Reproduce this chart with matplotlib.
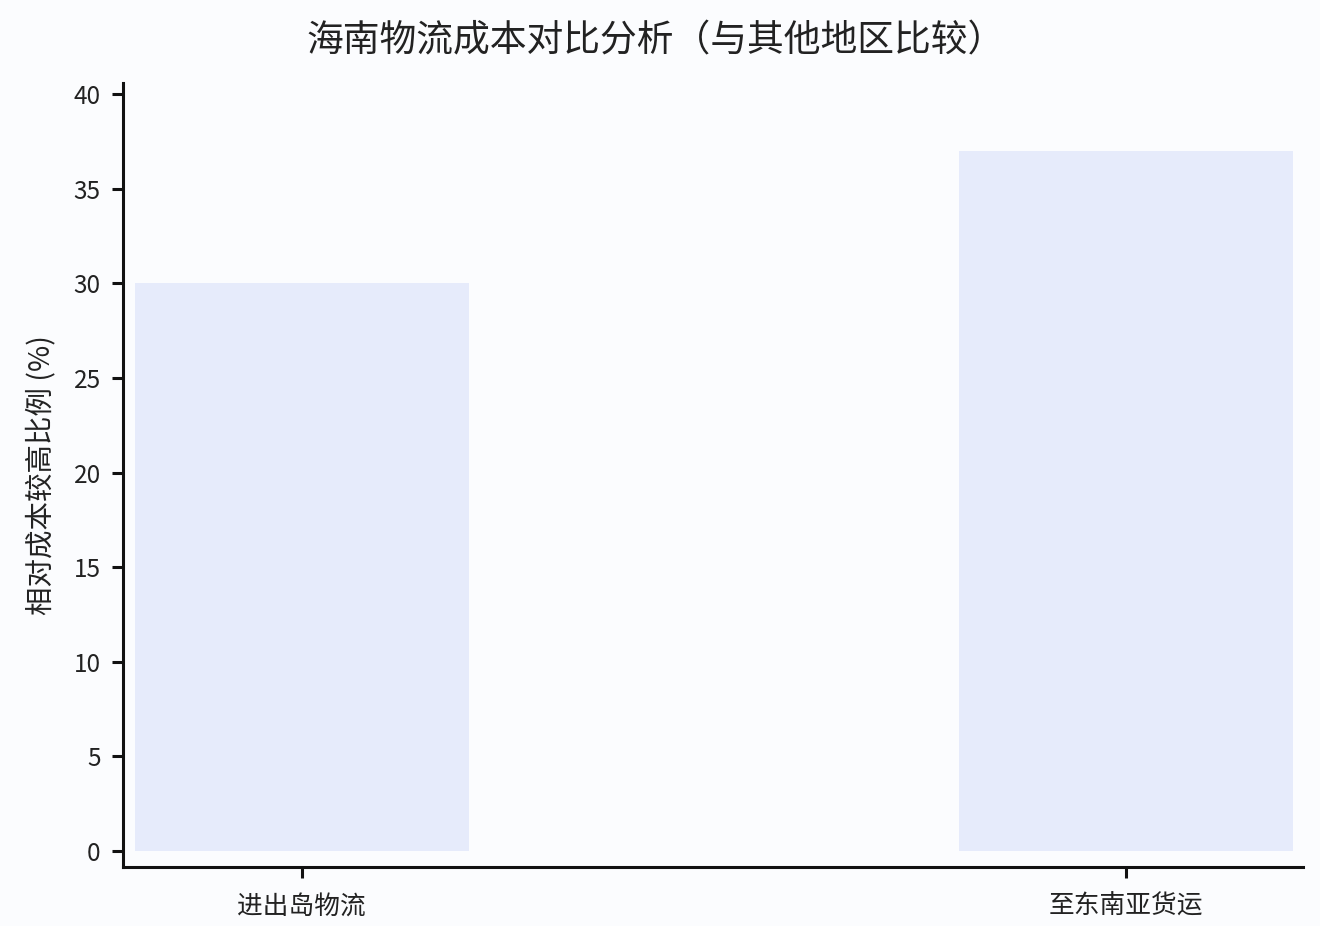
import matplotlib
matplotlib.use("Agg")
import matplotlib.pyplot as plt

categories = ["进出岛物流", "至东南亚货运"]
values = [30, 37]
yticks = [0, 5, 10, 15, 20, 25, 30, 35, 40]

plt.rcParams['font.family'] = ['Noto Sans CJK SC', 'DejaVu Sans']

bg = "#FBFCFE"
fig = plt.figure(figsize=(13.2, 9.26), dpi=100, facecolor=bg)
ax = fig.add_axes([123/1320, 1-867/926, (1303-123)/1320, (867-83)/926])
ax.set_facecolor(bg)

x = list(range(len(categories)))
ax.bar(x, values, width=0.405, color="#E6EBFB", edgecolor="none")

ax.set_xlim(-0.217, 1.215)
ax.set_ylim(-0.85, 40.6)
ax.set_xticks(x)
ax.set_xticklabels(categories, fontsize=18.5, color="#222222")
ax.set_yticks(yticks)
ax.set_yticklabels([str(v) for v in yticks], fontsize=17.5, color="#222222")
ax.tick_params(axis='both', length=8, width=2.2, color="#111111", pad=8)
ax.tick_params(axis='x', pad=11)

for s in ["top", "right"]:
    ax.spines[s].set_visible(False)
for s in ["left", "bottom"]:
    ax.spines[s].set_linewidth(2.2)
    ax.spines[s].set_color("#111111")

ax.set_ylabel("相对成本较高比例 (%)", fontsize=20.5, color="#222222", labelpad=12)
fig.suptitle("海南物流成本对比分析（与其他地区比较）", fontsize=26.5, color="#222222",
             x=0.497, y=0.977)

fig.savefig("out.png", dpi=100, facecolor=bg)
